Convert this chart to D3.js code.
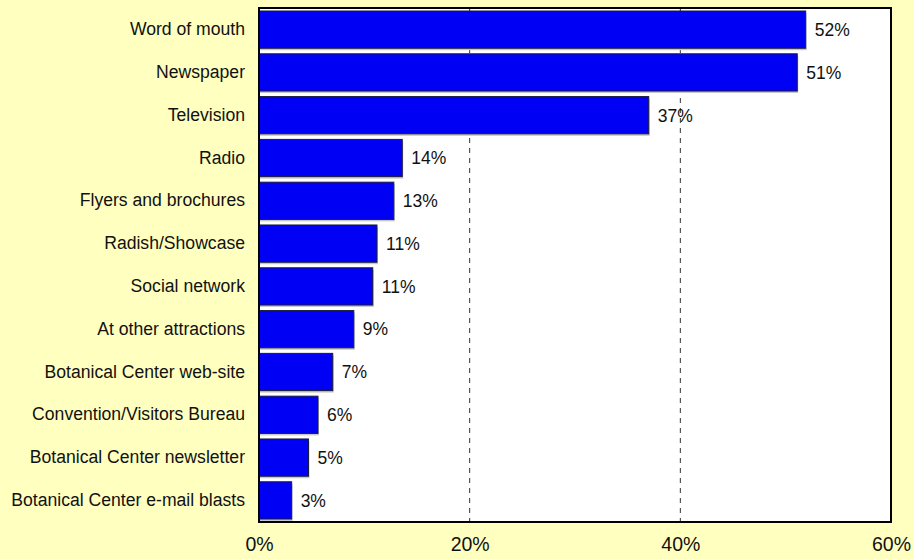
<!DOCTYPE html>
<html>
<head>
<meta charset="utf-8">
<script src="https://cdn.jsdelivr.net/npm/d3@7"></script>
<style>
  html, body { margin: 0; padding: 0; background: #FFFFC0; }
  svg { display: block; font-family: "Liberation Sans", Arial, sans-serif; }
</style>
</head>
<body>
<svg id="chart" width="914" height="559"></svg>
<script>
// How visitors heard about the Botanical Center (share of respondents)
const categories = [
  "Word of mouth",
  "Newspaper",
  "Television",
  "Radio",
  "Flyers and brochures",
  "Radish/Showcase",
  "Social network",
  "At other attractions",
  "Botanical Center web-site",
  "Convention/Visitors Bureau",
  "Botanical Center newsletter",
  "Botanical Center e-mail blasts"
];
const shares = [0.519, 0.511, 0.370, 0.136, 0.128, 0.112, 0.108, 0.090, 0.070, 0.056, 0.047, 0.031];
const xTicks = [0, 0.2, 0.4, 0.6];

const svg = d3.select("#chart");
const margin = { top: 8, right: 23, bottom: 37, left: 259 };
const width = 914 - margin.left - margin.right;
const height = 559 - margin.top - margin.bottom;

const g = svg.append("g").attr("transform", `translate(${margin.left},${margin.top})`);

const x = d3.scaleLinear().domain([0, 0.6]).range([0, width]);
const y = d3.scaleBand().domain(categories).range([0, height]).paddingInner(0.13).paddingOuter(0.07);

// plot area
g.append("rect").attr("width", width).attr("height", height).attr("fill", "#ffffff");

// dashed gridlines
g.selectAll("line.grid")
  .data(xTicks.filter(t => t > 0 && t < 0.6))
  .join("line")
  .attr("class", "grid")
  .attr("x1", d => x(d)).attr("x2", d => x(d))
  .attr("y1", 0).attr("y2", height)
  .attr("stroke", "#333")
  .attr("stroke-width", 1)
  .attr("stroke-dasharray", "5,5");

// thin grey shadow under each bar
g.selectAll("rect.shadow")
  .data(categories)
  .join("rect")
  .attr("class", "shadow")
  .attr("x", 0)
  .attr("y", d => y(d) + 2)
  .attr("width", (d, i) => x(shares[i]) + 1)
  .attr("height", y.bandwidth())
  .attr("fill", "#c8c8c8");

// bars
g.selectAll("rect.bar")
  .data(categories)
  .join("rect")
  .attr("class", "bar")
  .attr("x", 0)
  .attr("y", d => y(d))
  .attr("width", (d, i) => x(shares[i]))
  .attr("height", y.bandwidth())
  .attr("fill", "#0000F5")
  .attr("stroke", "#1a1a3a")
  .attr("stroke-width", 1);

// value labels
const fmt = d3.format(".0%");
g.selectAll("text.value")
  .data(categories)
  .join("text")
  .attr("class", "value")
  .attr("x", (d, i) => x(shares[i]) + 9)
  .attr("y", d => y(d) + y.bandwidth() / 2)
  .attr("dy", "0.36em")
  .attr("font-size", 17.5)
  .attr("fill", "#111")
  .text((d, i) => fmt(shares[i]));

// frame
g.append("rect").attr("width", width).attr("height", height)
  .attr("fill", "none").attr("stroke", "#000").attr("stroke-width", 2);

// category axis
const yAxis = g.append("g").call(d3.axisLeft(y).tickSize(0).tickPadding(14));
yAxis.select(".domain").remove();
yAxis.selectAll("text").attr("font-size", 17.6).attr("fill", "#111")
  .style("font-family", "'Liberation Sans', Arial, sans-serif");

// value axis
const xAxis = g.append("g").attr("transform", `translate(0,${height})`)
  .call(d3.axisBottom(x).tickValues(xTicks).tickFormat(d3.format(".0%")).tickSize(0).tickPadding(15));
xAxis.select(".domain").remove();
xAxis.selectAll("text").attr("font-size", 19.5).attr("fill", "#111")
  .style("font-family", "'Liberation Sans', Arial, sans-serif");
</script>
</body>
</html>
